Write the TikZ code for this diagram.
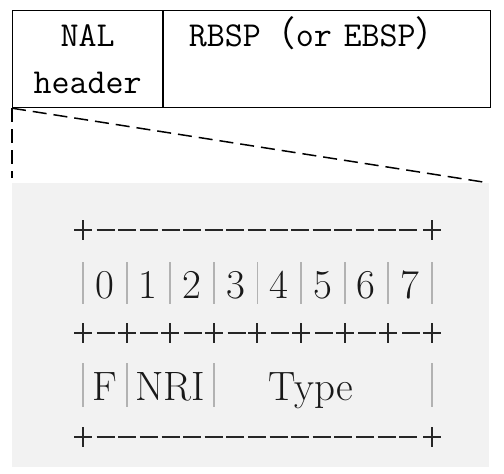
\documentclass[tikz,border=0pt]{standalone}
\usepackage{fontspec}
\newfontfamily\cjkfont{Noto Sans CJK SC}
\usetikzlibrary{positioning}
\definecolor{panelgray}{RGB}{242,242,242}
\definecolor{bargray}{RGB}{178,178,178}

\begin{document}
\begin{tikzpicture}[x=1pt, y=-1pt,
    field/.style={rectangle, draw, line width=1.2pt, minimum height=97pt, inner sep=0pt, font=\fontsize{35}{47}\selectfont\ttfamily},
    zoomline/.style={line width=1.5pt, dash pattern=on 14pt off 7pt, shorten >=5pt},
    ascii/.style={inner sep=0pt, anchor=base, text=black!90, font=\fontsize{41}{41}\selectfont},
    bar/.style={bargray, line width=1.8pt},
    rule/.style={black!85, line width=2pt}]

    \useasboundingbox (0,0) rectangle (504,474);

    % NAL unit
    \node[field, anchor=north west, minimum width=150pt, align=center] (nal) at (12,10) {NAL\\header};
    \node[field, right=0pt of nal, minimum width=327pt, text width=277pt, inner xsep=25pt, align=left] (rbsp)
        {RBSP{\cjkfont\smash{（}}or EBSP{\cjkfont\smash{）}}\\\mbox{}};

    % header byte, zoomed
    \node[rectangle, fill=panelgray, anchor=north west, minimum width=477pt, minimum height=284pt, inner sep=0pt] (panel) at (12,183) {};

    \draw[zoomline] (nal.south west) -- (panel.north east);
    \draw[zoomline] (nal.south west) -- (panel.north west);

    % +---+ rules
    \foreach \y in {230,437} {
      \foreach \k in {0,...,14}
        \draw[rule] ({96.7+\k*21.6},\y) -- ++(18,0);
      \foreach \x in {83,432}
        \draw[rule] (\x-9,\y) -- (\x+9,\y) (\x,\y-10) -- (\x,\y+10);
    }
    \foreach \i in {0,...,8}
      \draw[rule] ({83+\i*43.6-9},333) -- ++(18,0) ({83+\i*43.6},323) -- ++(0,20);
    \foreach \i in {0,...,7}
      \draw[rule] ({83+\i*43.6+13.8},333) -- ++(18,0);

    % | bars
    \foreach \i in {0,...,8}
      \draw[bar] ({83+\i*43.6},262) -- ++(0,42);
    \foreach \i in {0,1,3,8}
      \draw[bar] ({83+\i*43.6},363) -- ++(0,44);

    % bits and fields
    \foreach \i in {0,...,7}
      \node[ascii] (bit\i) at ({104.8+\i*43.6},298) {\i};
    \node[ascii] (f) at (104.8,400) {F};
    \node[ascii] (nri) at (170.4,400) {NRI};
    \node[ascii] (type) at (311,400) {Type};
\end{tikzpicture}
\end{document}
